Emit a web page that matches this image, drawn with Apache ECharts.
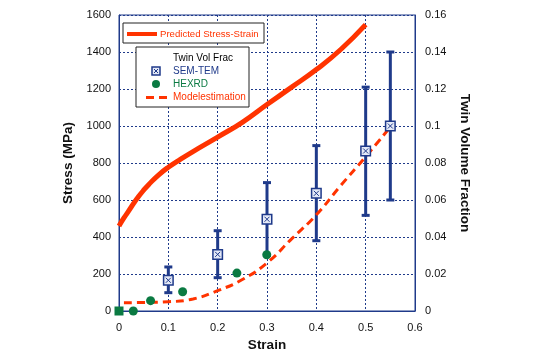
<!DOCTYPE html>
<html>
<head>
<meta charset="utf-8">
<script src="https://cdn.jsdelivr.net/npm/echarts@6/dist/echarts.min.js"></script>
<style>html,body{margin:0;padding:0;background:#fff}#c{width:545px;height:354px}</style>
</head>
<body>
<div id="c"></div>
<script>
// Predicted stress-strain curve (left axis, MPa)
const curveStrain = [0, 0.01, 0.02, 0.03, 0.04, 0.05, 0.06, 0.08, 0.1, 0.125, 0.15, 0.2, 0.25, 0.3, 0.35, 0.4, 0.45, 0.5];
const curveStress = [460, 503, 542, 583, 620, 653, 683, 735, 777, 821, 862, 940, 1020, 1116, 1210, 1305, 1415, 1548];
// SEM-TEM twin volume fraction (right axis) with error bars
const semStrain = [0.1, 0.2, 0.3, 0.4, 0.5, 0.55];
const semValue  = [0.0166, 0.0306, 0.0496, 0.0636, 0.0865, 0.1];
const semLow    = [0.0099, 0.018, 0.03, 0.038, 0.0517, 0.06];
const semHigh   = [0.0238, 0.0434, 0.0694, 0.0894, 0.121, 0.14];
// HEXRD twin volume fraction
const hexStrain = [0, 0.029, 0.064, 0.129, 0.239, 0.2995];
const hexValue  = [0, 0, 0.0056, 0.0104, 0.0205, 0.0304];
// Model estimation
const modelStrain = [0.01, 0.05, 0.1, 0.15, 0.2, 0.25, 0.3, 0.35, 0.4, 0.45, 0.5, 0.55];
const modelValue  = [0.0045, 0.0046, 0.005, 0.0065, 0.011, 0.017, 0.026, 0.039, 0.052, 0.068, 0.0834, 0.0995];
// Axis ticks
const xTicks = {min: 0, max: 0.6, interval: 0.1};
const yLeftTicks = {min: 0, max: 1600, interval: 200};
const yRightTicks = {min: 0, max: 0.16, interval: 0.02};

const NAVY = '#1f3a8a', RED = '#ff3300', GREEN = '#0a7a42';
const FONT = 'Liberation Sans, Arial, sans-serif';
const zip = (a, b) => a.map((v, i) => [v, b[i]]);
const num = v => String(+v.toFixed(2));

const chart = echarts.init(document.getElementById('c'), null, {renderer: 'canvas'});
chart.setOption({
  animation: false,
  backgroundColor: '#fff',
  grid: {left: 119, right: 130, top: 15, bottom: 43, containLabel: false, outerBoundsMode: 'none',
         show: true, borderColor: NAVY, borderWidth: 1, backgroundColor: 'transparent'},
  xAxis: {
    type: 'value', min: xTicks.min, max: xTicks.max, interval: xTicks.interval,
    name: 'Strain', nameLocation: 'middle', nameGap: 26,
    nameTextStyle: {fontFamily: FONT, fontWeight: 'bold', fontSize: 13.5, color: '#111'},
    axisLine: {lineStyle: {color: NAVY, width: 1}},
    axisTick: {show: false},
    axisLabel: {fontFamily: FONT, fontSize: 11, color: '#111', margin: 11, formatter: num},
    splitLine: {show: true, lineStyle: {color: NAVY, type: [2, 2], width: 1}}
  },
  yAxis: [{
    type: 'value', min: yLeftTicks.min, max: yLeftTicks.max, interval: yLeftTicks.interval,
    name: 'Stress (MPa)', nameLocation: 'middle', nameGap: 25,
    nameTextStyle: {fontFamily: FONT, fontWeight: 'bold', fontSize: 13.5, color: '#111'},
    axisLine: {show: true, lineStyle: {color: NAVY, width: 1}},
    axisTick: {show: false},
    axisLabel: {fontFamily: FONT, fontSize: 11, color: '#111', margin: 8, formatter: v => String(v)},
    splitLine: {show: true, lineStyle: {color: NAVY, type: [2, 2], width: 1}}
  }, {
    type: 'value', position: 'right', min: yRightTicks.min, max: yRightTicks.max, interval: yRightTicks.interval,
    name: 'Twin Volume Fraction', nameLocation: 'middle', nameGap: 36, nameRotate: -90,
    nameTextStyle: {fontFamily: FONT, fontWeight: 'bold', fontSize: 13.5, color: '#111'},
    axisLine: {show: true, lineStyle: {color: NAVY, width: 1}},
    axisTick: {show: false},
    axisLabel: {fontFamily: FONT, fontSize: 11, color: '#111', margin: 10, formatter: num},
    splitLine: {show: false}
  }],
  series: [
    {
      name: 'Predicted Stress-Strain', type: 'line', smooth: 0.5, yAxisIndex: 0,
      data: zip(curveStrain, curveStress), showSymbol: false,
      lineStyle: {color: RED, width: 5}
    },
    {
      name: 'Modelestimation', type: 'line', smooth: 0.5, yAxisIndex: 1,
      data: zip(modelStrain, modelValue), showSymbol: false,
      lineStyle: {color: RED, width: 3, type: [8, 5]}
    },
    {
      name: 'errbars', type: 'custom', yAxisIndex: 1, clip: false,
      data: semStrain.map((s, i) => [s, semLow[i], semHigh[i]]),
      encode: {x: 0, y: [1, 2]},
      renderItem: (params, api) => {
        const x = api.value(0);
        const lo = api.coord([x, api.value(1)]);
        const hi = api.coord([x, api.value(2)]);
        const st = {stroke: NAVY, lineWidth: 3};
        return {type: 'group', children: [
          {type: 'line', shape: {x1: lo[0], y1: lo[1], x2: hi[0], y2: hi[1]}, style: st},
          {type: 'line', shape: {x1: hi[0] - 4, y1: hi[1], x2: hi[0] + 4, y2: hi[1]}, style: st},
          {type: 'line', shape: {x1: lo[0] - 4, y1: lo[1], x2: lo[0] + 4, y2: lo[1]}, style: st}
        ]};
      },
      z: 3
    },
    {
      name: 'HEXRD', type: 'scatter', yAxisIndex: 1, clip: false,
      data: zip(hexStrain, hexValue).map((d, i) => i === 0 ? {value: d, symbol: 'rect', symbolSize: 9} : d),
      symbol: 'circle', symbolSize: 9,
      itemStyle: {color: GREEN, opacity: 1}, z: 4
    },
    {
      name: 'SEM-TEM', type: 'scatter', yAxisIndex: 1, clip: false,
      data: zip(semStrain, semValue), symbol: 'rect', symbolSize: 9.5,
      itemStyle: {color: '#e4e9f7', borderColor: NAVY, borderWidth: 1.5, opacity: 1}, z: 5
    },
    {
      name: 'semx', type: 'scatter', yAxisIndex: 1, clip: false,
      data: zip(semStrain, semValue), symbol: 'path://M0,0L10,10M10,0L0,10', symbolSize: 5,
      itemStyle: {color: 'none', borderColor: NAVY, borderWidth: 1, opacity: 1}, z: 6
    }
  ],
  graphic: [
    // legend 1
    {type: 'rect', shape: {x: 123, y: 23, width: 141, height: 20}, style: {fill: '#fff', stroke: '#222', lineWidth: 1}, z: 100},
    {type: 'line', shape: {x1: 127, y1: 34, x2: 157, y2: 34}, style: {stroke: RED, lineWidth: 4}, z: 101},
    {type: 'text', x: 160, y: 34, style: {text: 'Predicted Stress-Strain', fill: RED, font: '9.6px ' + FONT, textVerticalAlign: 'middle'}, z: 101},
    // legend 2
    {type: 'rect', shape: {x: 136, y: 47, width: 113, height: 60}, style: {fill: '#fff', stroke: '#222', lineWidth: 1}, z: 100},
    {type: 'text', x: 173, y: 58, style: {text: 'Twin Vol Frac', fill: '#000', font: '10px ' + FONT, textVerticalAlign: 'middle'}, z: 101},
    {type: 'rect', shape: {x: 152, y: 67, width: 8, height: 8}, style: {fill: '#e4e9f7', stroke: NAVY, lineWidth: 1.5}, z: 101},
    {type: 'line', shape: {x1: 154, y1: 69, x2: 158, y2: 73}, style: {stroke: NAVY, lineWidth: 1}, z: 102},
    {type: 'line', shape: {x1: 158, y1: 69, x2: 154, y2: 73}, style: {stroke: NAVY, lineWidth: 1}, z: 102},
    {type: 'text', x: 173, y: 71, style: {text: 'SEM-TEM', fill: NAVY, font: '10px ' + FONT, textVerticalAlign: 'middle'}, z: 101},
    {type: 'circle', shape: {cx: 156, cy: 84, r: 4}, style: {fill: GREEN}, z: 101},
    {type: 'text', x: 173, y: 84, style: {text: 'HEXRD', fill: GREEN, font: '10px ' + FONT, textVerticalAlign: 'middle'}, z: 101},
    {type: 'line', shape: {x1: 146, y1: 97.5, x2: 168, y2: 97.5}, style: {stroke: RED, lineWidth: 3, lineDash: [8, 5]}, z: 101},
    {type: 'text', x: 173, y: 97.5, style: {text: 'Modelestimation', fill: RED, font: '10px ' + FONT, textVerticalAlign: 'middle'}, z: 101}
  ]
});
</script>
</body>
</html>
